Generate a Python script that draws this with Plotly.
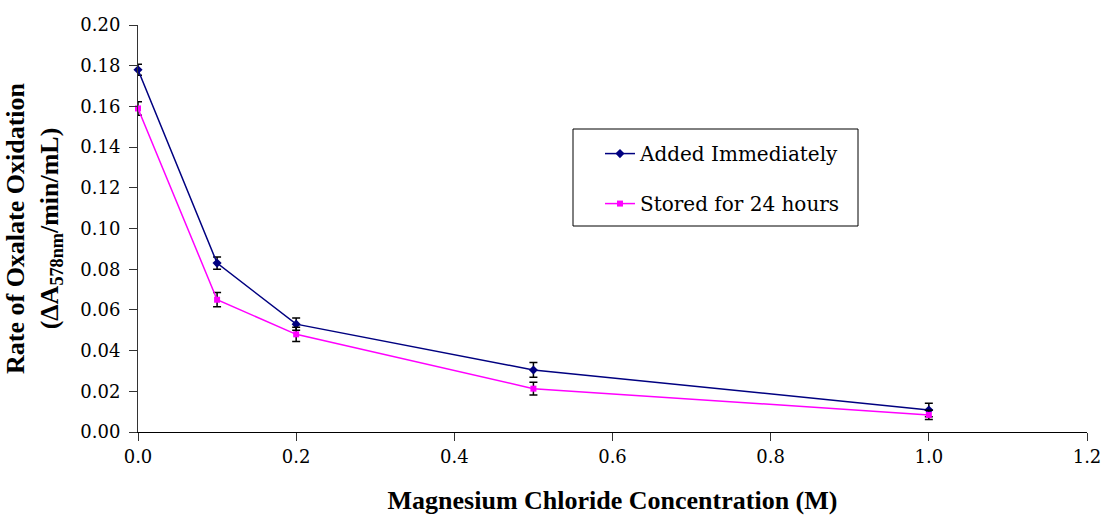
import plotly.graph_objects as go

conc = [0.0, 0.1, 0.2, 0.5, 1.0]
added_immediately = [0.178, 0.083, 0.053, 0.0305, 0.0108]
added_err = [0.0027, 0.003, 0.003, 0.0036, 0.0033]
stored_24h = [0.159, 0.065, 0.048, 0.0213, 0.0084]
stored_err = [0.0033, 0.0035, 0.0035, 0.0031, 0.0023]

x_ticks = [0.0, 0.2, 0.4, 0.6, 0.8, 1.0, 1.2]
y_ticks = [0.00, 0.02, 0.04, 0.06, 0.08, 0.10, 0.12, 0.14, 0.16, 0.18, 0.20]

BOLD_FONT = "Liberation Serif"
REG_FONT = "DejaVu Serif"

fig = go.Figure()
fig.add_trace(go.Scatter(
    x=conc, y=added_immediately, name="Added Immediately", mode="lines+markers",
    line=dict(color="#000080", width=1.5),
    marker=dict(symbol="diamond", size=7, color="#000080"),
    error_y=dict(type="data", array=added_err, color="black", thickness=1.5, width=4),
    cliponaxis=False, legendgroup="a",
))
fig.add_trace(go.Scatter(
    x=conc, y=stored_24h, name="Stored for 24 hours", mode="lines+markers",
    line=dict(color="#FF00FF", width=1.5),
    marker=dict(symbol="square", size=6, color="#FF00FF"),
    error_y=dict(type="data", array=stored_err, color="black", thickness=1.5, width=4),
    cliponaxis=False, legendgroup="b",
))

fig.update_layout(
    width=1102, height=515,
    margin=dict(l=138, r=15, t=25, b=83, autoexpand=False),
    paper_bgcolor="white", plot_bgcolor="white",
    font=dict(family=REG_FONT, size=18, color="black"),
    showlegend=True,
    legend=dict(
        x=0.4868, y=0.732, xanchor="left", yanchor="top",
        bgcolor="rgba(0,0,0,0)", borderwidth=0, itemwidth=30,
        font=dict(family=REG_FONT, size=20, color="black"),
        traceorder="grouped", tracegroupgap=21,
    ),
    shapes=[dict(type="rect", xref="paper", yref="paper",
                 x0=(573 - 138) / 949, x1=(858 - 138) / 949,
                 y0=(432 - 226) / 407, y1=(432 - 129) / 407,
                 line=dict(color="black", width=1), fillcolor="white", layer="below")],
)
fig.update_xaxes(
    range=[0, 1.2], tickvals=x_ticks, tickformat=".1f", automargin=False,
    showline=True, linecolor="black", linewidth=1, showgrid=False, zeroline=False,
    ticks="outside", ticklen=8, tickcolor="#333",
    tickfont=dict(family=REG_FONT, size=18, color="black"),
    title=dict(text="<b>Magnesium Chloride Concentration (M)</b>", standoff=37,
               font=dict(family=BOLD_FONT, size=26, color="black")),
)
fig.update_yaxes(
    range=[0, 0.2], tickvals=y_ticks, tickformat=".2f", automargin=False,
    showline=True, linecolor="#333", linewidth=1, showgrid=False, zeroline=False,
    ticks="outside", ticklen=8, tickcolor="#333", ticklabelstandoff=5,
    tickfont=dict(family=REG_FONT, size=18, color="black"),
    title=dict(text="<b>Rate of Oxalate Oxidation<br>(ΔA<sub>578nm</sub>/min/mL)</b>", standoff=14,
               font=dict(family=BOLD_FONT, size=26, color="black")),
)

fig.write_html("out.html")
